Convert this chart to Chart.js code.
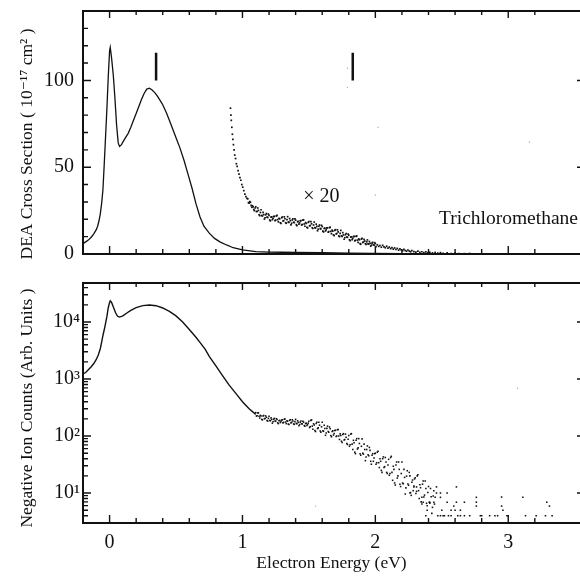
<!DOCTYPE html>
<html>
<head>
<meta charset="utf-8">
<script src="https://cdn.jsdelivr.net/npm/chart.js@4.4.1/dist/chart.umd.min.js"></script>
<style>
  body { margin: 0; background: #fff; }
  #wrap { position: relative; width: 580px; height: 586px; }
  #top { position: absolute; left: 0; top: 0; }
  #bot { position: absolute; left: 0; top: 270px; }
</style>
</head>
<body>
<div id="wrap">
  <canvas id="top" width="580" height="270"></canvas>
  <canvas id="bot" width="580" height="316"></canvas>
</div>
<script>
// ---- top panel: DEA cross section (10^-17 cm^2) ----
const mainE = [-0.2,-0.18,-0.16,-0.14,-0.12,-0.1,-0.09,-0.08,-0.07,-0.06,-0.05,-0.04,-0.03,-0.02,-0.01,0,0.005,0.015,0.028,0.04,
  0.053,0.065,0.075,0.09,0.1,0.12,0.14,0.16,0.18,0.2,0.22,0.24,0.26,0.28,0.3,0.32,0.34,0.36,0.38,0.4,
  0.43,0.46,0.5,0.53,0.56,0.59,0.62,0.65,0.68,0.71,0.75,0.79,0.83,0.88,0.93,1.0,1.1,1.2,1.3,1.4,1.6,1.8,2.0,2.2,2.4,2.6];
const mainCross = [6,7,8,9.5,11.5,14,16,19,23,29,37,52,68,84,102,117,119,113,103,90,
  74,64,62,63,64.5,67,69.5,73,77,81,85,89,92.5,95,95.5,94.5,93,91,88.5,86,
  81,75,67,61,54,46,38,29,21.5,16,12,9,7,5.2,3.6,2.4,1.4,1.1,1,0.9,0.78,0.5,0.28,0.13,0.05,0.02];

// x20 magnified tail
const x20E = [0.91,0.913,0.916,0.92,0.924,0.928,0.932,0.937,0.942,0.948,0.954,0.96,0.967,0.974,0.981,0.988,0.995,1.002,1.01,1.018,1.026,1.034,
  1.04,1.045,1.05,1.055,1.06,1.065,1.07,1.075,1.08,1.085,1.09,1.095,
  1.1,1.105,1.11,1.115,1.12,1.125,1.13,1.135,1.14,1.145,1.15,1.155,1.16,1.165,1.17,1.175,1.18,1.185,1.19,1.195,
  1.2,1.205,1.21,1.215,1.22,1.225,1.23,1.235,1.24,1.245,1.25,1.255,1.26,1.265,1.27,1.275,1.28,1.285,1.29,1.295,
  1.3,1.305,1.31,1.315,1.32,1.325,1.33,1.335,1.34,1.345,1.35,1.355,1.36,1.365,1.37,1.375,1.38,1.385,1.39,1.395,
  1.4,1.405,1.41,1.415,1.42,1.425,1.43,1.435,1.44,1.445,1.45,1.455,1.46,1.465,1.47,1.475,1.48,1.485,1.49,1.495,
  1.5,1.505,1.51,1.515,1.52,1.525,1.53,1.535,1.54,1.545,1.55,1.555,1.56,1.565,1.57,1.575,1.58,1.585,1.59,1.595,
  1.6,1.605,1.61,1.615,1.62,1.625,1.63,1.635,1.64,1.645,1.65,1.655,1.66,1.665,1.67,1.675,1.68,1.685,1.69,1.695,
  1.7,1.705,1.71,1.715,1.72,1.725,1.73,1.735,1.74,1.745,1.75,1.755,1.76,1.765,1.77,1.775,1.78,1.785,1.79,1.795,
  1.8,1.805,1.81,1.815,1.82,1.825,1.83,1.835,1.84,1.845,1.85,1.855,1.86,1.865,1.87,1.875,1.88,1.885,1.89,1.895,
  1.9,1.905,1.91,1.915,1.92,1.925,1.93,1.935,1.94,1.945,1.95,1.955,1.96,1.965,1.97,1.975,1.98,1.985,1.99,1.995,
  2.0,2.005,2.015,2.025,2.035,2.045,2.055,2.065,2.075,2.085,2.095,2.105,2.115,2.125,2.135,2.145,2.155,2.165,2.175,2.185,
  2.195,2.205,2.215,2.225,2.235,2.245,2.255,2.265,2.275,2.29,2.305,2.32,2.335,2.35,2.365,2.38,2.395,2.41,2.43,2.45,
  2.47,2.49,2.51,2.54,2.57,2.6,2.63,2.67,2.71,2.75];
const x20Cross = [84,80,77,73,69,66,63,60,57,55,52,50.5,48,46,44,42.5,40,38.5,36.5,34.5,33,32,
  31.8,29.6,29.3,30.2,29.8,28,26.9,27.8,27.2,25.6,25,26.5,
  27.2,24.5,24.5,26.5,25.1,22.6,22.1,23.9,25.5,22.2,21.9,24,22.7,20.1,20.9,22.6,23.3,21.2,21,23,
  22.3,19.6,19.1,21.2,21.4,19.8,20.5,21.6,21.7,19.2,19.5,21.9,22.2,19.8,18.5,20.6,20.2,18,17.7,20.9,
  21.3,19,19.2,21.4,20.3,18,17.7,19.8,21.5,18.4,18.2,20.4,19.2,16.8,17.7,19.6,20.3,18.3,18.1,20.2,
  19.5,16.9,16.4,18.6,18.8,17.2,17.9,19.1,19.2,16.7,17,19.5,19.7,17.3,16,18.1,17.6,15.4,15,18.2,
  18.6,16.2,16.4,18.6,17.4,15.1,14.7,16.7,18.4,15.2,15,17.2,15.9,13.4,14.3,16,16.7,14.7,14.5,16.5,
  15.8,13.2,12.7,14.7,14.9,13.3,14,15,15.1,12.6,12.9,15.2,15.4,13,11.7,13.7,13.2,11,10.6,13.6,
  14,11.6,11.8,13.9,12.7,10.4,10,11.9,13.6,10.4,10.2,12.3,11,8.5,9.4,11.1,11.8,9.8,9.6,11.5,
  10.8,8.2,7.7,9.7,9.9,8.3,9,10,10.1,7.6,7.9,10.2,10.4,8,6.7,8.7,8.2,6,5.6,8.6,
  9,6.6,6.9,8.4,7.5,5.9,5.6,7,8.1,5.8,5.7,7.2,6.2,4.5,5.1,6.3,6.7,5.3,5.1,6.5,
  6,4.2,5.3,4.4,4.9,3.9,5,4.1,3.6,4.5,3.4,4,3.1,3.7,2.8,3.5,2.6,3.2,2.2,2.9,
  2.4,1.9,2.7,2,1.6,2.3,1.7,1.3,2,1.4,1.1,1.7,1,1.3,0.8,1.2,0.7,1,0.6,0.9,
  0.5,0.8,0.4,0.6,0.3,0.5,0.3,0.2,0.3,0.1];

const speckTopE = [1.79,1.79,2.02,2.0,3.16];
const speckTopV = [107,96,73,34,64.5];

const markerE = [0.35, 1.83];
const markerSpan = [100, 116];

// ---- bottom panel: negative ion counts (log) ----
const botLineE = [-0.2,-0.18,-0.16,-0.14,-0.12,-0.1,-0.085,-0.07,-0.06,-0.05,-0.035,-0.02,-0.01,0,0.005,0.015,0.03,0.045,0.06,0.075,
  0.1,0.13,0.16,0.2,0.25,0.3,0.35,0.4,0.45,0.5,0.55,0.6,0.65,0.68,0.72,0.75,0.8,0.85,0.9,0.95,1.0,1.05,1.1];
const botLineCounts = [1230,1300,1450,1620,1850,2200,2640,3400,4400,5800,8300,12500,17800,22000,23500,22000,18000,14500,12600,12200,
  12800,14400,16000,17900,19400,19900,19300,17600,15300,12800,10000,7400,5400,4400,3300,2500,1700,1150,780,560,400,300,240];

const botDotE = [1.1,1.105,1.11,1.115,1.12,1.125,1.13,1.135,1.14,1.145,1.15,1.155,1.16,1.165,1.17,1.175,1.18,1.185,1.19,1.195,
  1.2,1.205,1.21,1.215,1.22,1.225,1.23,1.235,1.24,1.245,1.25,1.255,1.26,1.265,1.27,1.275,1.28,1.285,1.29,1.295,
  1.3,1.305,1.31,1.315,1.32,1.325,1.33,1.335,1.34,1.345,1.35,1.355,1.36,1.365,1.37,1.375,1.38,1.385,1.39,1.395,
  1.4,1.405,1.41,1.415,1.42,1.425,1.43,1.435,1.44,1.445,1.45,1.455,1.46,1.465,1.47,1.475,1.48,1.485,1.49,1.495,
  1.5,1.505,1.51,1.515,1.52,1.525,1.53,1.535,1.54,1.545,1.55,1.555,1.56,1.565,1.57,1.575,1.58,1.585,1.59,1.595,
  1.6,1.605,1.61,1.615,1.62,1.625,1.63,1.635,1.64,1.645,1.65,1.655,1.66,1.665,1.67,1.675,1.68,1.685,1.69,1.695,
  1.7,1.705,1.71,1.715,1.72,1.725,1.73,1.735,1.74,1.745,1.75,1.755,1.76,1.765,1.77,1.775,1.78,1.785,1.79,1.795,
  1.8,1.805,1.81,1.815,1.82,1.825,1.83,1.835,1.84,1.845,1.85,1.855,1.86,1.865,1.87,1.875,1.88,1.885,1.89,1.895,
  1.9,1.905,1.91,1.915,1.92,1.925,1.93,1.935,1.94,1.945,1.95,1.955,1.96,1.965,1.97,1.975,1.98,1.985,1.99,1.995,
  2.0,2.005,2.01,2.015,2.02,2.025,2.03,2.035,2.04,2.045,2.05,2.055,2.06,2.065,2.07,2.075,2.08,2.085,2.09,2.095,
  2.1,2.105,2.11,2.115,2.12,2.125,2.13,2.135,2.14,2.145,2.15,2.155,2.16,2.165,2.17,2.175,2.18,2.185,2.19,2.195,
  2.2,2.205,2.21,2.215,2.22,2.225,2.23,2.235,2.24,2.245,2.25,2.255,2.26,2.265,2.27,2.275,2.28,2.285,2.29,2.295,
  2.3,2.305,2.31,2.315,2.32,2.325,2.33,2.335,2.34,2.345,2.35,2.355,2.36,2.365,2.37,2.375,2.38,2.385,2.39,2.395,
  2.4,2.405,2.41,2.415,2.42,2.425,2.43,2.435,2.44,2.445,
  2.35,2.38,2.39,2.36,2.41,2.44,2.45,2.46,2.49,2.54,2.26,2.29,2.31,
  2.46,2.47,2.49,2.49,2.5,2.51,2.52,2.54,2.55,2.57,2.57,2.59,2.6,2.61,2.61,2.62,2.64,2.64,2.67,2.67,
  2.71,2.76,2.76,2.76,2.79,2.8,2.86,2.9,2.92,2.95,2.95,2.96,2.99,3.0,3.11,3.13,3.21,3.28,3.29,3.31,3.33];
const botDotCounts = [257,224,226,254,255,223,207,230,224,196,192,225,229,201,203,225,213,187,183,204,
  222,188,185,208,195,168,178,196,204,183,181,201,195,170,165,185,188,172,180,190,
  193,170,174,197,199,176,165,185,182,162,159,188,193,170,174,193,184,163,160,179,
  196,166,165,185,174,151,159,175,183,164,163,181,175,152,148,165,168,153,159,168,
  181,141,146,188,192,149,131,164,156,125,120,166,175,135,139,175,155,122,117,145,
  174,124,121,154,135,103,113,136,149,120,116,144,134,102,97,120,123,104,111,125,
  126,98,100,129,130,100,87,109,102,81,77,106,110,85,87,108,95,74,71,88,
  102,66,70,108,110,72,58,84,76,52,49,84,90,59,62,90,74,49,46,66,
  89,50,48,72,58,37,43,58,67,47,45,63,56,36,32,46,49,36,41,49,
  50,32,34,52,54,34,28,40,36,25,23,40,43,28,29,42,35,23,22,31,
  39,20.5,22,42,44,23,16.7,29.5,26,15,13.8,31,35,18.3,20,35,26,14.3,13,22,
  35,15,14.5,26,18.8,9.6,12.3,19.8,24.6,14.4,13.7,23,20,10.2,9.1,15.4,16.9,11,13.3,17.7,
  18.6,9.8,10.7,20,21,11,8,14,12.4,7,6.4,14.3,16.2,8.5,9.2,16.3,12,6.6,6,10.2,
  13,6.9,6.6,12,8.6,4.4,5.6,8.9,11,6.4,
  8.4,4,5,6.9,6.9,6.9,8.4,10,10,10,10,12.8,12.8,
  12.8,4,8.4,4,5,4,4,6.9,4,5,4,5.9,5,12.8,6.9,4,5,4,4,6.9,
  4,6.9,8.4,5.9,4,4,4,4,4,8.5,5.9,5,4,4,8.4,4,4,4,6.9,5.9,4];

const speckBotE = [3.07, 1.55];
const speckBotV = [690, 5.9];

const topYTitle = 'DEA Cross Section ( 10\u207B\u00B9\u2077 cm\u00B2 )';
const botYTitle = 'Negative Ion Counts (Arb. Units )';
const xTitle = 'Electron Energy (eV)';
const sup = ['\u2070','\u00B9','\u00B2','\u00B3','\u2074','\u2075'];

const serif = "'Liberation Serif', 'DejaVu Serif', serif";
const ink = '#111';
const pts = (xs, ys) => xs.map((x, i) => ({x: x, y: ys[i]}));

const isInt = v => Math.abs(v - Math.round(v)) < 1e-6;

// frame, inward ticks and rotated y title
const frame = {
  id: 'frame',
  afterDraw(chart, args, opts) {
    const {ctx, chartArea: a, scales: {x, y}} = chart;
    ctx.save();
    ctx.strokeStyle = ink;
    ctx.lineWidth = 1.4;
    ctx.beginPath();
    x.ticks.forEach(t => {
      if (!isInt(t.value / 0.2)) return;
      const px = x.getPixelForValue(t.value);
      const major = isInt(t.value);
      ctx.moveTo(px, a.bottom); ctx.lineTo(px, a.bottom - (major ? 8 : 5));
      ctx.moveTo(px, a.top); ctx.lineTo(px, a.top + (major ? 7 : 4));
    });
    y.ticks.forEach(t => {
      const v = t.value;
      if (v < y.min || v > y.max) return;
      let major;
      if (y.type === 'logarithmic') {
        const m = v / Math.pow(10, Math.floor(Math.log10(v) + 1e-9));
        if (!isInt(m)) return;
        major = isInt(Math.log10(v));
      } else {
        major = v % 50 === 0;
      }
      const py = y.getPixelForValue(v);
      ctx.moveTo(a.left, py); ctx.lineTo(a.left + (major ? 8 : 5), py);
      if (major) { ctx.moveTo(a.right, py); ctx.lineTo(a.right - 3, py); }
    });
    ctx.stroke();
    ctx.lineWidth = 2;
    ctx.beginPath();
    ctx.moveTo(a.right, a.top); ctx.lineTo(a.left, a.top);
    ctx.lineTo(a.left, a.bottom); ctx.lineTo(a.right, a.bottom);
    ctx.stroke();

    ctx.fillStyle = ink;
    ctx.font = '17.5px ' + serif;
    ctx.textAlign = 'center';
    ctx.textBaseline = 'middle';
    ctx.translate(27, opts.titleY);
    ctx.rotate(-Math.PI / 2);
    ctx.fillText(opts.title, 0, 0);
    ctx.restore();
  }
};

const notes = {
  id: 'notes',
  afterDatasetsDraw(chart) {
    const {ctx, chartArea: a, scales: {x, y}} = chart;
    ctx.save();
    ctx.strokeStyle = ink;
    ctx.lineWidth = 2.5;
    ctx.beginPath();
    markerE.forEach(e => {
      const px = x.getPixelForValue(e);
      ctx.moveTo(px, y.getPixelForValue(markerSpan[0]));
      ctx.lineTo(px, y.getPixelForValue(markerSpan[1]));
    });
    ctx.stroke();
    ctx.fillStyle = ink;
    ctx.textBaseline = 'middle';
    ctx.font = '20px ' + serif;
    ctx.textAlign = 'left';
    ctx.fillText('\u00D7 20', x.getPixelForValue(1.457), y.getPixelForValue(32.8));
    ctx.font = '19.5px ' + serif;
    ctx.textAlign = 'right';
    ctx.fillText('Trichloromethane', a.right - 2, y.getPixelForValue(20.5));
    ctx.restore();
  }
};

const noGrid = {display: false, drawTicks: false};
// keep the plot area fixed: no extra room for edge labels
const noEdge = s => { s.paddingTop = 0; s.paddingBottom = 0; s.paddingLeft = 0; s.paddingRight = 0; };

new Chart('top', {
  type: 'scatter',
  data: {
    datasets: [
      {data: pts(mainE, mainCross), showLine: true, borderColor: ink, borderWidth: 1.3, pointRadius: 0},
      {data: pts(x20E, x20Cross), pointStyle: 'rect', pointRadius: 1.2, borderWidth: 0, backgroundColor: ink},
      {data: pts(speckTopE, speckTopV), pointRadius: 0.7, borderWidth: 0, backgroundColor: '#aaa'}
    ]
  },
  options: {
    responsive: false,
    animation: false,
    events: [],
    layout: {autoPadding: false, padding: {top: 11, right: 0, left: 0, bottom: 0}},
    plugins: {
      legend: {display: false},
      tooltip: {enabled: false},
      frame: {title: topYTitle, titleY: 144}
    },
    scales: {
      x: {
        type: 'linear', min: -0.2, max: 3.54,
        ticks: {display: false, stepSize: 0.2, autoSkip: false},
        grid: noGrid, border: {display: false},
        afterFit: s => { s.height = 16; noEdge(s); }
      },
      y: {
        min: 0, max: 140,
        ticks: {stepSize: 10, autoSkip: false, padding: 9, color: ink, font: {family: serif, size: 20},
          callback: v => (v % 50 === 0 ? v : '')},
        grid: noGrid, border: {display: false},
        afterFit: s => { s.width = 83; noEdge(s); }
      }
    }
  },
  plugins: [frame, notes]
});

new Chart('bot', {
  type: 'scatter',
  data: {
    datasets: [
      {data: pts(botLineE, botLineCounts), showLine: true, borderColor: ink, borderWidth: 1.4, pointRadius: 0},
      {data: pts(botDotE, botDotCounts), pointStyle: 'rect', pointRadius: 1.1, borderWidth: 0, backgroundColor: ink},
      {data: pts(speckBotE, speckBotV), pointRadius: 0.7, borderWidth: 0, backgroundColor: '#aaa'}
    ]
  },
  options: {
    responsive: false,
    animation: false,
    events: [],
    layout: {autoPadding: false, padding: {top: 13, right: 0, left: 0, bottom: 0}},
    plugins: {
      legend: {display: false},
      tooltip: {enabled: false},
      frame: {title: botYTitle, titleY: 138}
    },
    scales: {
      x: {
        type: 'linear', min: -0.2, max: 3.54,
        ticks: {stepSize: 0.2, autoSkip: false, maxRotation: 0, padding: 8, color: ink, font: {family: serif, size: 20},
          callback: v => (isInt(v) ? Math.round(v) : '')},
        title: {display: true, text: xTitle, color: ink, font: {family: serif, size: 17.5}, padding: {top: 0, bottom: 12}},
        grid: noGrid, border: {display: false},
        afterFit: s => { s.height = 63; noEdge(s); }
      },
      y: {
        type: 'logarithmic', min: 2.98, max: 48300,
        ticks: {autoSkip: false, padding: 3, color: ink, font: {family: serif, size: 20},
          callback: v => {
            const e = Math.log10(v);
            return isInt(e) && e >= 1 ? '10' + sup[Math.round(e)] : '';
          }},
        grid: noGrid, border: {display: false},
        afterFit: s => { s.width = 83; noEdge(s); }
      }
    }
  },
  plugins: [frame]
});
</script>
</body>
</html>
